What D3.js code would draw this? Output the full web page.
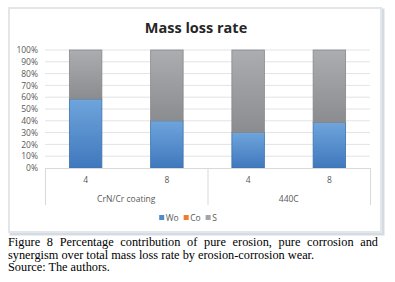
<!DOCTYPE html>
<html>
<head>
<meta charset="utf-8">
<script src="https://cdn.jsdelivr.net/npm/d3@7"></script>
<style>
  body { margin: 0; background: #fff; }
  .caption { position: absolute; left: 8px; top: 236px; width: 370px; font-family: "Liberation Serif", "Times New Roman", serif; font-size: 12.3px; line-height: 12.6px; color: #000; text-align: justify; }
</style>
</head>
<body>
<div id="chart"></div>
<div class="caption">Figure 8 Percentage contribution of pure erosion, pure corrosion and synergism over total mass loss rate by erosion-corrosion wear.<br>Source: The authors.</div>
<script>
// data
var groups = ['CrN/Cr coating', '440C'];
var times = ['4', '8'];
var Wo = [58.5, 40, 30, 38.5];
var Co = [0, 0, 0, 0];
var S = [41.5, 60, 70, 61.5];
var seriesNames = ['Wo', 'Co', 'S'];
var seriesColors = ['#4f8bcf', '#ed7d31', '#a5a5a5'];
var yTicks = [0, 10, 20, 30, 40, 50, 60, 70, 80, 90, 100];

var W = 395, H = 282;
var m = {l: 45, r: 370, t: 50, b: 168};
var font = '"Open Sans", "Liberation Sans", sans-serif';

var svg = d3.select('#chart').append('svg')
	.attr('width', W).attr('height', H)
	.style('position', 'absolute').style('left', 0).style('top', 0);

// gradients
var defs = svg.append('defs');
function grad(id, c1, c2) {
	var g = defs.append('linearGradient').attr('id', id)
		.attr('x1', 0).attr('y1', 0).attr('x2', 0).attr('y2', 1);
	g.append('stop').attr('offset', '0%').attr('stop-color', c1);
	g.append('stop').attr('offset', '100%').attr('stop-color', c2);
}
grad('gWo', '#6fa5dc', '#3f78bd');
grad('gCo', '#f39a5c', '#d8671f');
grad('gS', '#acadb1', '#8b8c90');
var fills = ['url(#gWo)', 'url(#gCo)', 'url(#gS)'];
var strokes = ['#3e72ad', '#c55a11', '#87888c'];

// frame
svg.append('rect').attr('x', 11).attr('y', 10).attr('width', 372).attr('height', 224)
	.attr('fill', 'none').attr('stroke', '#d5dbe3').attr('stroke-width', 3);
svg.append('rect').attr('x', 9).attr('y', 8).attr('width', 372).attr('height', 224)
	.attr('fill', '#fff').attr('stroke', '#e4e6ea').attr('stroke-width', 2);

// title
svg.append('text').attr('x', 196).attr('y', 33)
	.attr('text-anchor', 'middle')
	.style('font-family', font)
	.style('font-weight', 'bold').style('font-size', '14.5px').style('fill', '#262626')
	.text('Mass loss rate');

var cats = [];
groups.forEach(function(g) { times.forEach(function(t) { cats.push(g + '|' + t); }); });

var x = d3.scaleBand().domain(cats).range([m.l, m.r]).paddingInner(0.6).paddingOuter(0.3);
var xg = d3.scaleBand().domain(groups).range([m.l, m.r]);
var y = d3.scaleLinear().domain([0, 100]).range([m.b, m.t]);

// gridlines
svg.append('g').selectAll('line').data(yTicks.slice(1)).enter().append('line')
	.attr('x1', m.l).attr('x2', m.r)
	.attr('y1', function(d) { return y(d); }).attr('y2', function(d) { return y(d); })
	.attr('stroke', '#e3e3e3').attr('stroke-width', 1);

// y axis
var yAxis = svg.append('g').attr('transform', 'translate(' + (m.l - 7) + ',0)')
	.call(d3.axisLeft(y).tickValues(yTicks).tickSize(0).tickPadding(0).tickFormat(function(d) { return d + '%'; }));
yAxis.select('.domain').remove();
yAxis.selectAll('text').style('font-family', font)
	.style('font-size', '8.5px').style('fill', '#595959');

// stacked bars
var rows = cats.map(function(c, i) { return {cat: c, Wo: Wo[i], Co: Co[i], S: S[i]}; });
var stack = d3.stack().keys(seriesNames)(rows);
svg.append('g').selectAll('g').data(stack).enter().append('g')
	.each(function(layer, k) {
		d3.select(this).selectAll('rect').data(layer.filter(function(d) { return d[1] - d[0] > 0; }))
			.enter().append('rect')
			.attr('x', function(d) { return x(d.data.cat); })
			.attr('width', x.bandwidth())
			.attr('y', function(d) { return y(d[1]); })
			.attr('height', function(d) { return y(d[0]) - y(d[1]); })
			.attr('fill', fills[k]).attr('stroke', strokes[k]).attr('stroke-width', 0.8);
	});

// category axis
var ax = svg.append('g');
ax.append('line').attr('x1', m.l).attr('x2', m.r).attr('y1', m.b + 0.5).attr('y2', m.b + 0.5)
	.attr('stroke', '#d9d9d9');
var seps = [m.l, xg(groups[1]), m.r];
ax.selectAll('line.sep').data(seps).enter().append('line').attr('class', 'sep')
	.attr('x1', function(d) { return d + 0.5; }).attr('x2', function(d) { return d + 0.5; })
	.attr('y1', m.b).attr('y2', 205).attr('stroke', '#d9d9d9');
ax.selectAll('text.t').data(cats).enter().append('text').attr('class', 't')
	.attr('x', function(d) { return x(d) + x.bandwidth() / 2; }).attr('y', 183)
	.attr('text-anchor', 'middle')
	.style('font-family', font)
	.style('font-size', '8.5px').style('fill', '#595959')
	.text(function(d) { return d.split('|')[1]; });
ax.selectAll('text.g').data(groups).enter().append('text').attr('class', 'g')
	.attr('x', function(d) { return xg(d) + xg.bandwidth() / 2; }).attr('y', 202)
	.attr('text-anchor', 'middle')
	.style('font-family', font)
	.style('font-size', '8.5px').style('fill', '#595959')
	.text(function(d) { return d; });

// legend - lay items out by measured text width, centred
var legG = svg.append('g');
var leg = legG.selectAll('g').data(seriesNames).enter().append('g');
leg.append('rect').attr('width', 5).attr('height', 5).attr('y', 0)
	.attr('fill', function(d, i) { return seriesColors[i]; });
leg.append('text').attr('x', 6.5).attr('y', 6)
	.style('font-family', font)
	.style('font-size', '8.5px').style('fill', '#595959')
	.text(function(d) { return d; });
var cx = 0;
leg.each(function() {
	var w = d3.select(this).select('text').node().getComputedTextLength();
	d3.select(this).attr('transform', 'translate(' + cx + ',0)');
	cx += 6.5 + w + 5;
});
legG.attr('transform', 'translate(' + (188 - (cx - 5) / 2) + ',215)');
</script>
</body>
</html>
